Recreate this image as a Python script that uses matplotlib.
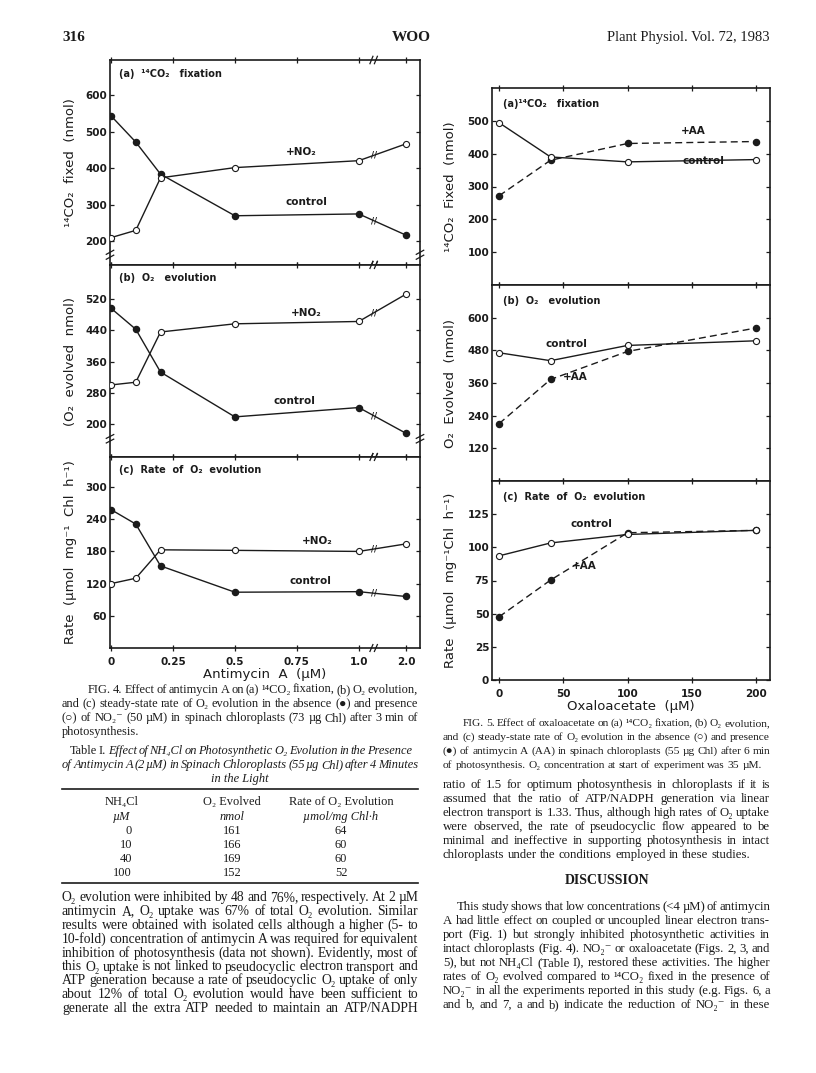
import numpy as np
import matplotlib
matplotlib.use("Agg")
import matplotlib.pyplot as plt
from matplotlib.transforms import blended_transform_factory

# ---- Fig. 4: antimycin A ----
antimycin = [0, 0.1, 0.2, 0.5, 1.0, 2.0]
co2_control = [544, 472, 384, 270, 275, 217]
co2_no2 = [210, 230, 374, 402, 421, 467]
o2_control = [497, 443, 333, 218, 242, 176]
o2_no2 = [300, 307, 436, 457, 463, 533]
rate_control = [258, 231, 153, 104, 105, 96]
rate_no2 = [120, 130, 183, 182, 180, 194]
antimycin_ticks = [0, 0.25, 0.5, 0.75, 1.0, 2.0]
antimycin_ticklabels = ["0", "0.25", "0.5", "0.75", "1.0", "2.0"]

# ---- Fig. 5: oxaloacetate ----
oaa = [0, 40, 100, 200]
oaa_co2_control = [494, 390, 375, 382]
oaa_co2_aa = [272, 380, 431, 437]
oaa_o2_control = [471, 442, 498, 515]
oaa_o2_aa = [211, 373, 476, 562]
oaa_rate_control = [93.6, 103.3, 109.7, 112.8]
oaa_rate_aa = [47.7, 75.3, 111.0, 112.8]

# ---- Table I ----
nh4cl = ["0", "10", "40", "100"]
nh4cl_o2 = ["161", "166", "169", "152"]
nh4cl_rate = ["64", "60", "60", "52"]

W, H, DPI = 816, 1073, 100
INK = "#1b1b1b"
SANS = ["DejaVu Sans"]
SERIF = ["Liberation Serif", "DejaVu Serif"]

fig = plt.figure(figsize=(W / DPI, H / DPI), dpi=DPI)
fig.patch.set_facecolor("white")
renderer = fig.canvas.get_renderer()


def rect(x0, y0, x1, y1):
    return [x0 / W, 1 - y1 / H, (x1 - x0) / W, (y1 - y0) / H]


def amap(c):
    # broken antimycin axis: 0-1 linear, 2.0 squeezed in after the break
    c = np.asarray(c, dtype=float)
    return np.where(c <= 1.0, c, 1.0 + (c - 1.0) * 0.19)


def style_axes(ax, yticks, ylim, xlim, xticks, show_xlabels):
    ax.set_ylim(*ylim)
    ax.set_xlim(*xlim)
    ax.set_yticks(yticks)
    ax.set_xticks(xticks)
    for s in ax.spines.values():
        s.set_linewidth(1.2)
        s.set_color(INK)
    ax.tick_params(axis="y", direction="in", right=True, length=3, width=0.9,
                   labelsize=7.5, pad=2, colors=INK)
    ax.tick_params(axis="x", direction="inout", top=True, bottom=True, length=5,
                   width=0.9, labelsize=7.5, pad=4, colors=INK,
                   labelbottom=show_xlabels)
    for lab in ax.get_yticklabels() + ax.get_xticklabels():
        lab.set_fontweight("bold")
        lab.set_family(SANS)


def plot_pair(ax, x, y_filled, y_open, dashed_filled=False):
    ax.plot(x, y_filled, color=INK, lw=1.0, ls=(0, (5, 3)) if dashed_filled else "-",
            marker="o", ms=4.4, mfc=INK, mec=INK, zorder=3)
    ax.plot(x, y_open, color=INK, lw=1.0, marker="o", ms=4.4, mfc="white",
            mec=INK, mew=0.8, zorder=4)


def xbreak(ax, xb):
    tr = blended_transform_factory(ax.transData, ax.transAxes)
    for yy in (0, 1):
        for dx in (-0.009, 0.009):
            ax.plot([xb + dx - 0.006, xb + dx + 0.006], [yy - 0.018, yy + 0.018],
                    transform=tr, color=INK, lw=0.9, clip_on=False, zorder=6)


def ybreak(ax, yb):
    for xx in (0, 1):
        for dy in (-0.012, 0.012):
            ax.plot([xx - 0.012, xx + 0.012], [yb + dy - 0.01, yb + dy + 0.01],
                    transform=ax.transAxes, color=INK, lw=0.9, clip_on=False, zorder=6)


# ================= Fig. 4 =================
left_rects = [(110, 60, 420, 265), (110, 265, 420, 457), (110, 457, 420, 648)]
fig4_panels = [
    ("(a)  ¹⁴CO₂   fixation", "¹⁴CO₂  fixed  (nmol)", co2_control, co2_no2,
     [200, 300, 400, 500, 600], (135, 697), (0.766, 432), (0.79, 294), 0.05),
    ("(b)  O₂   evolution", "(O₂  evolved  nmol)", o2_control, o2_no2,
     [200, 280, 360, 440, 520], (115, 608), (0.786, 472), (0.74, 247), 0.095),
    ("(c)  Rate  of  O₂  evolution", "Rate  (µmol  mg⁻¹  Chl  h⁻¹)", rate_control, rate_no2,
     [60, 120, 180, 240, 300], (0, 356), (0.833, 190), (0.806, 116), None),
]
xb = 1.06
for i, (r, p) in enumerate(zip(left_rects, fig4_panels)):
    title, ylab, yc, yn, yt, yl, pos_no2, pos_ctl, yb = p
    ax = fig.add_axes(rect(*r))
    xs = amap(antimycin)
    plot_pair(ax, xs, yc, yn)
    style_axes(ax, yt, yl, (-0.004, 1.247), amap(antimycin_ticks), i == 2)
    ax.set_xticklabels(antimycin_ticklabels)
    for lab in ax.get_xticklabels():
        lab.set_fontweight("bold")
        lab.set_family(SANS)
    ax.text(0.03, 0.93, title, transform=ax.transAxes, fontsize=7, fontweight="bold",
            family=SANS, color=INK, va="center")
    ax.set_ylabel(ylab, fontsize=9.5, family=SANS, color=INK)
    ax.yaxis.set_label_coords(-0.105, 0.5)
    ax.text(*pos_no2, "+NO₂", fontsize=7.5, fontweight="bold", family=SANS,
            color=INK, ha="center", va="bottom")
    ax.text(*pos_ctl, "control", fontsize=7.5, fontweight="bold", family=SANS,
            color=INK, ha="center", va="bottom")
    for ys in (yc, yn):
        ax.text(xb, np.interp(xb, xs, ys), "//", fontsize=6, fontweight="bold",
                family=SANS, color=INK, ha="center", va="center", zorder=5)
    xbreak(ax, xb)
    if yb is not None:
        ybreak(ax, yb)
    if i == 2:
        ax.set_xlabel("Antimycin  A  (µM)", fontsize=9.5, family=SANS, color=INK,
                      labelpad=1)

# ================= Fig. 5 =================
right_rects = [(492, 88, 770, 285), (492, 285, 770, 481), (492, 481, 770, 680)]
fig5_panels = [
    ("(a)¹⁴CO₂   fixation", "¹⁴CO₂  Fixed  (nmol)", oaa_co2_aa, oaa_co2_control,
     [100, 200, 300, 400, 500], (0, 600), (151, 453), (159, 363)),
    ("(b)  O₂   evolution", "O₂  Evolved  (nmol)", oaa_o2_aa, oaa_o2_control,
     [120, 240, 360, 480, 600], (0, 720), (59, 363), (52.7, 486)),
    ("(c)  Rate  of  O₂  evolution", "Rate  (µmol  mg⁻¹Chl  h⁻¹)", oaa_rate_aa,
     oaa_rate_control, [0, 25, 50, 75, 100, 125], (0, 150), (66.6, 82), (71.6, 114)),
]
for i, (r, p) in enumerate(zip(right_rects, fig5_panels)):
    title, ylab, ya, yc, yt, yl, pos_aa, pos_ctl = p
    ax = fig.add_axes(rect(*r))
    plot_pair(ax, oaa, ya, yc, dashed_filled=True)
    style_axes(ax, yt, yl, (-5.6, 211), [0, 50, 100, 150, 200], i == 2)
    ax.text(0.04, 0.92, title, transform=ax.transAxes, fontsize=7, fontweight="bold",
            family=SANS, color=INK, va="center")
    ax.set_ylabel(ylab, fontsize=9.5, family=SANS, color=INK)
    ax.yaxis.set_label_coords(-0.125, 0.5)
    ax.text(*pos_aa, "+AA", fontsize=7.5, fontweight="bold", family=SANS,
            color=INK, ha="center", va="bottom")
    ax.text(*pos_ctl, "control", fontsize=7.5, fontweight="bold", family=SANS,
            color=INK, ha="center", va="bottom")
    if i == 2:
        ax.set_xlabel("Oxaloacetate  (µM)", fontsize=9.5, family=SANS, color=INK,
                      labelpad=1)


# ================= page text =================
def put_line(x0, x1, y, line, size, justify=True, roman_to=0,
             weight="normal", italic_all=False):
    words = line.split(" ")
    objs = []
    for k, w in enumerate(words):
        it = italic_all and k >= roman_to
        t = fig.text(x0 / W, 1 - (y + 4) / H, w, fontsize=size, family=SERIF,
                     style="italic" if it else "normal", weight=weight,
                     va="baseline", ha="left", color=INK)
        objs.append(t)
    widths = [t.get_window_extent(renderer).width for t in objs]
    gap = size * 0.25 * DPI / 72
    if justify and len(words) > 1:
        gap = (x1 - x0 - sum(widths)) / (len(words) - 1)
    x = x0
    for t, wd in zip(objs, widths):
        t.set_x(x / W)
        x += wd + gap


def center_line(xc, y, s, size, **kw):
    fig.text(xc / W, 1 - (y + 4) / H, s, fontsize=size, family=SERIF, ha="center",
             va="baseline", color=INK, **kw)


def hrule(x0, x1, y, lw=1.2):
    fig.add_artist(plt.Line2D([x0 / W, x1 / W], [1 - y / H, 1 - y / H],
                              transform=fig.transFigure, color=INK, lw=lw))


# header
fig.text(62 / W, 1 - 41 / H, "316", fontsize=11, family=SERIF, weight="bold",
         va="baseline", color=INK)
center_line(411, 37, "WOO", 11, weight="bold")
fig.text(770 / W, 1 - 41 / H, "Plant Physiol. Vol. 72, 1983", fontsize=10.5,
         family=SERIF, ha="right", va="baseline", color=INK)

LX0, LX1 = 62, 418
RX0, RX1 = 443, 770
CAP_L, CAP_R = 8.9, 8.2
BODY_L, BODY_R = 9.8, 9.2

cap4 = [
    "FIG. 4. Effect of antimycin A on (a) ¹⁴CO₂ fixation, (b) O₂ evolution,",
    "and (c) steady-state rate of O₂ evolution in the absence (●) and presence",
    "(○) of NO₂⁻ (50 µM) in spinach chloroplasts (73 µg Chl) after 3 min of",
    "photosynthesis.",
]
for k, s in enumerate(cap4):
    put_line(LX0 + (26 if k == 0 else 0), LX1, 689 + 14 * k, s, CAP_L,
             justify=k < 3)

tab_title = [
    "Table I. Effect of NH₄Cl on Photosynthetic O₂ Evolution in the Presence",
    "of Antimycin A (2 µM) in Spinach Chloroplasts (55 µg Chl) after 4 Minutes",
]
put_line(LX0 + 8, LX1 - 6, 750, tab_title[0], CAP_L, italic_all=True, roman_to=2)
put_line(LX0, LX1, 764, tab_title[1], CAP_L, italic_all=True)
center_line(240, 778, "in the Light", CAP_L, style="italic")

hrule(LX0, LX1, 789)
col_x = [122, 232, 341]
for xc, s in zip(col_x, ["NH₄Cl", "O₂ Evolved", "Rate of O₂ Evolution"]):
    center_line(xc, 801, s, CAP_L)
for xc, s in zip(col_x, ["µM", "nmol", "µmol/mg Chl·h"]):
    center_line(xc, 816, s, CAP_L, style="italic")
for k in range(len(nh4cl)):
    yy = 830 + 14 * k
    fig.text(132 / W, 1 - (yy + 4) / H, nh4cl[k], fontsize=CAP_L, family=SERIF,
             ha="right", va="baseline", color=INK)
    center_line(col_x[1], yy, nh4cl_o2[k], CAP_L)
    center_line(col_x[2], yy, nh4cl_rate[k], CAP_L)
hrule(LX0, LX1, 883)

para1 = [
    "O₂ evolution were inhibited by 48 and 76%, respectively. At 2 µM",
    "antimycin A, O₂ uptake was 67% of total O₂ evolution. Similar",
    "results were obtained with isolated cells although a higher (5- to",
    "10-fold) concentration of antimycin A was required for equivalent",
    "inhibition of photosynthesis (data not shown). Evidently, most of",
    "this O₂ uptake is not linked to pseudocyclic electron transport and",
    "ATP generation because a rate of pseudocyclic O₂ uptake of only",
    "about 12% of total O₂ evolution would have been sufficient to",
    "generate all the extra ATP needed to maintain an ATP/NADPH",
]
for k, s in enumerate(para1):
    put_line(LX0, LX1, 897 + 13.9 * k, s, BODY_L)

cap5 = [
    "FIG. 5. Effect of oxaloacetate on (a) ¹⁴CO₂ fixation, (b) O₂ evolution,",
    "and (c) steady-state rate of O₂ evolution in the absence (○) and presence",
    "(●) of antimycin A (AA) in spinach chloroplasts (55 µg Chl) after 6 min",
    "of photosynthesis. O₂ concentration at start of experiment was 35 µM.",
]
for k, s in enumerate(cap5):
    put_line(RX0 + (20 if k == 0 else 0), RX1, 722 + 14 * k, s, CAP_R,
             justify=k < 3)

para2 = [
    "ratio of 1.5 for optimum photosynthesis in chloroplasts if it is",
    "assumed that the ratio of ATP/NADPH generation via linear",
    "electron transport is 1.33. Thus, although high rates of O₂ uptake",
    "were observed, the rate of pseudocyclic flow appeared to be",
    "minimal and ineffective in supporting photosynthesis in intact",
    "chloroplasts under the conditions employed in these studies.",
]
for k, s in enumerate(para2):
    put_line(RX0, RX1, 784 + 14 * k, s, BODY_R, justify=k < 5)

center_line(607, 880, "DISCUSSION", 10, weight="bold")

para3 = [
    "This study shows that low concentrations (<4 µM) of antimycin",
    "A had little effect on coupled or uncoupled linear electron trans-",
    "port (Fig. 1) but strongly inhibited photosynthetic activities in",
    "intact chloroplasts (Fig. 4). NO₂⁻ or oxaloacetate (Figs. 2, 3, and",
    "5), but not NH₄Cl (Table I), restored these activities. The higher",
    "rates of O₂ evolved compared to ¹⁴CO₂ fixed in the presence of",
    "NO₂⁻ in all the experiments reported in this study (e.g. Figs. 6, a",
    "and b, and 7, a and b) indicate the reduction of NO₂⁻ in these",
]
for k, s in enumerate(para3):
    put_line(RX0 + (14 if k == 0 else 0), RX1, 906 + 14 * k, s, BODY_R)

fig.savefig("out.png", dpi=DPI, facecolor="white")
